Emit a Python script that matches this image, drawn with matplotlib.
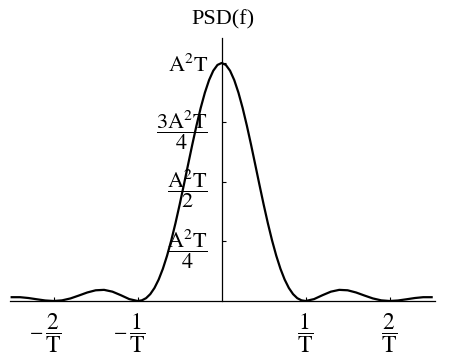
import matplotlib.pyplot as plt

plt.rcParams['font.family'] = ['Liberation Serif', 'DejaVu Serif']
plt.rcParams['mathtext.fontset'] = 'stix'

# frequency in units of 1/T, PSD in units of A^2 T
freq = [-2.5, -2.4, -2.3, -2.2, -2.1, -2.0, -1.9, -1.8, -1.7, -1.6, -1.5,
        -1.4, -1.3, -1.2, -1.1, -1.0, -0.95, -0.9, -0.85, -0.8, -0.75, -0.7,
        -0.65, -0.6, -0.55, -0.5, -0.45, -0.4, -0.35, -0.3, -0.25, -0.2,
        -0.15, -0.1, -0.05, 0.0, 0.05, 0.1, 0.15, 0.2, 0.25, 0.3, 0.35, 0.4,
        0.45, 0.5, 0.55, 0.6, 0.65, 0.7, 0.75, 0.8, 0.85, 0.9, 0.95, 1.0,
        1.1, 1.2, 1.3, 1.4, 1.5, 1.6, 1.7, 1.8, 1.9, 2.0, 2.1, 2.2, 2.3,
        2.4, 2.5]
psd = [0.016, 0.016, 0.0125, 0.0072, 0.0022, 0.0, 0.0027, 0.0108, 0.023,
       0.0358, 0.045, 0.0468, 0.0392, 0.0243, 0.008, 0.0, 0.0028, 0.0119,
       0.0289, 0.0547, 0.0901, 0.1353, 0.1904, 0.2546, 0.3268, 0.4053,
       0.4881, 0.5728, 0.6566, 0.7368, 0.8106, 0.8751, 0.9281, 0.9675,
       0.9918, 1.0, 0.9918, 0.9675, 0.9281, 0.8751, 0.8106, 0.7368, 0.6566,
       0.5728, 0.4881, 0.4053, 0.3268, 0.2546, 0.1904, 0.1353, 0.0901,
       0.0547, 0.0289, 0.0119, 0.0028, 0.0, 0.008, 0.0243, 0.0392, 0.0468,
       0.045, 0.0358, 0.023, 0.0108, 0.0027, 0.0, 0.0022, 0.0072, 0.0125,
       0.016, 0.016]

xticks = [-2, -1, 1, 2]
xlabels = [r'$\dfrac{2}{\mathrm{T}}$', r'$\dfrac{1}{\mathrm{T}}$',
           r'$\dfrac{1}{\mathrm{T}}$', r'$\dfrac{2}{\mathrm{T}}$']
yticks = [0.25, 0.5, 0.75, 1.0]
ylabels = [r'$\dfrac{\mathrm{A}^2\mathrm{T}}{4}$',
           r'$\dfrac{\mathrm{A}^2\mathrm{T}}{2}$',
           r'$\dfrac{3\mathrm{A}^2\mathrm{T}}{4}$',
           r'$\mathrm{A}^2\mathrm{T}$']

W, H = 452, 364
fig = plt.figure(figsize=(W / 100, H / 100), dpi=100)
ax = fig.add_axes([10 / W, 63 / H, 425 / W, 263 / H])

ax.plot(freq, psd, color='black', lw=1.6)
ax.set_xlim(-2.52, 2.54)
ax.set_ylim(0, 1.105)

for s in ['top', 'right']:
    ax.spines[s].set_visible(False)
ax.spines['left'].set_position(('data', 0))
ax.spines['bottom'].set_position(('data', 0))
ax.spines['left'].set_linewidth(0.9)
ax.spines['bottom'].set_linewidth(0.9)

ax.set_xticks(xticks)
ax.set_xticklabels(xlabels, fontsize=17)
ax.set_yticks(yticks)
ax.set_yticklabels(ylabels, fontsize=16)
ax.tick_params(axis='x', direction='in', length=3, pad=8)
ax.tick_params(axis='y', direction='in', length=3, pad=10)

# minus signs sit to the left of the negative fractions
for t in xticks:
    if t < 0:
        ax.annotate('\u2212', xy=(t, 0), xytext=(-12, -25),
                    textcoords='offset points', fontsize=17,
                    ha='center', va='center')

ax.set_title('PSD(f)', fontsize=16, pad=10)

fig.savefig('out.png', dpi=100)
